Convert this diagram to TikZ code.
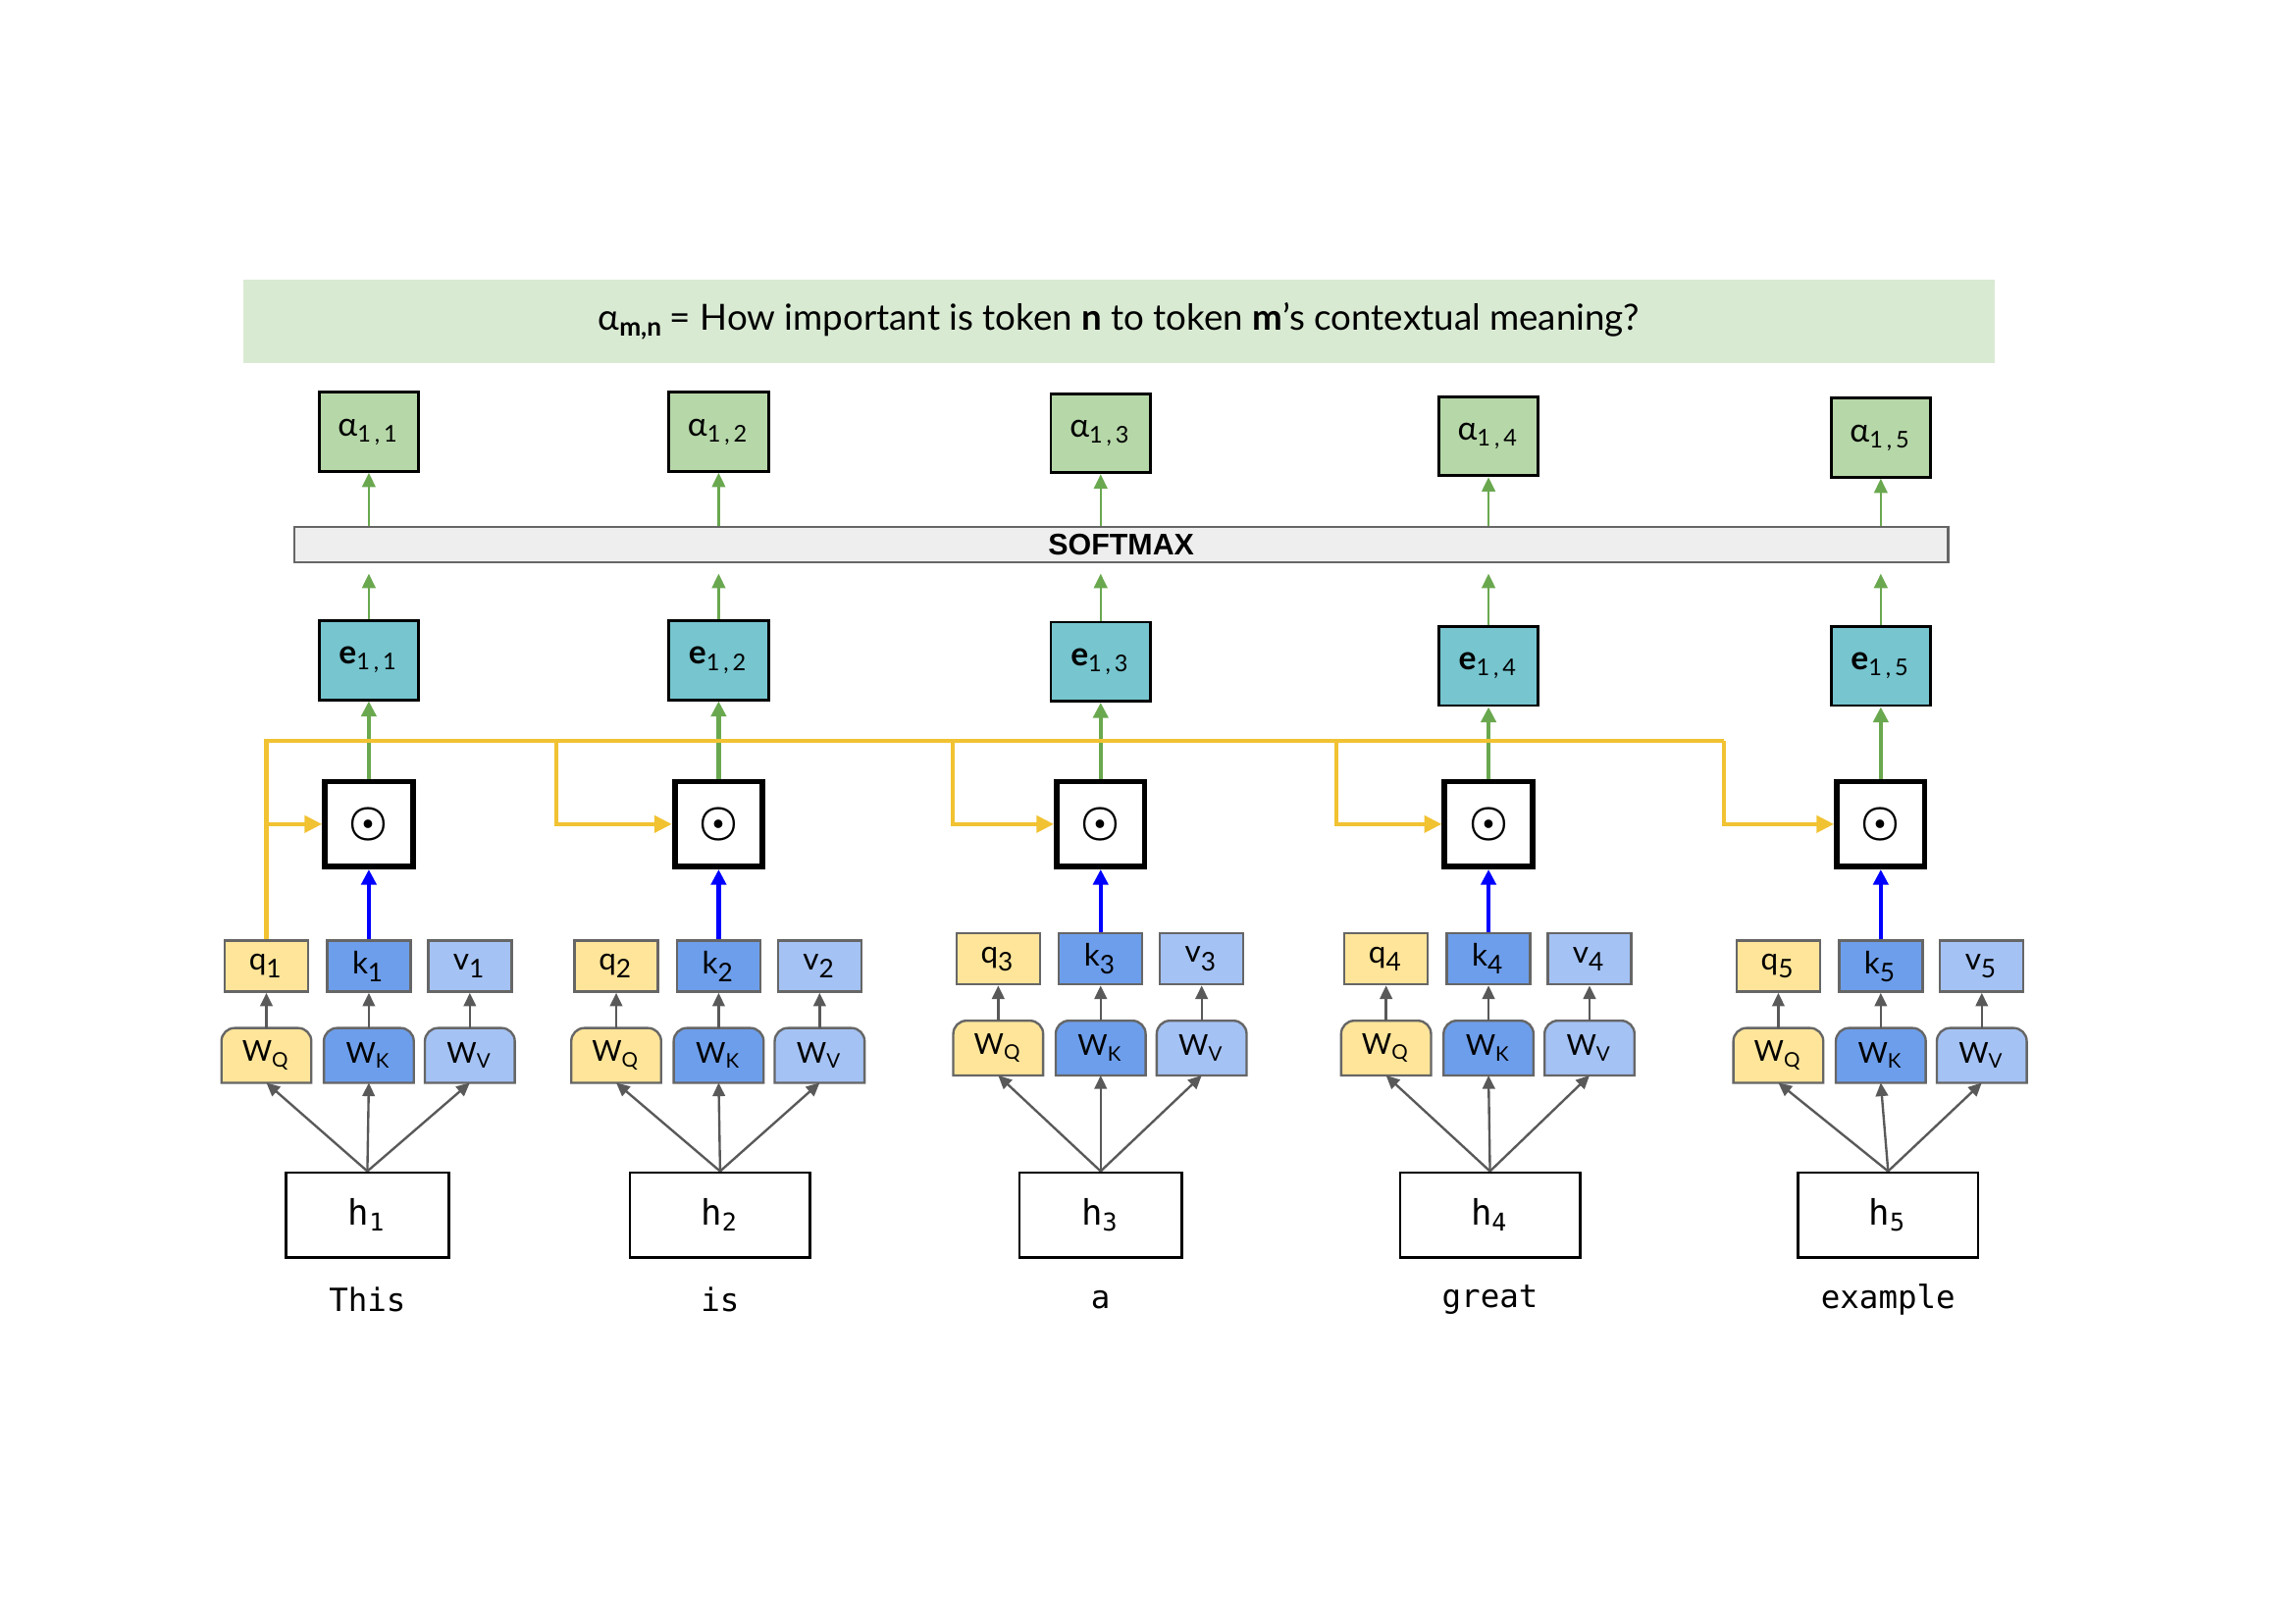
\documentclass[tikz,border=0pt]{standalone}
\usepackage{fontspec}
\setmainfont{Lato}
\newfontfamily\wordfont{DejaVu Sans Mono}
\newfontfamily\barfont{Liberation Sans}
\usepackage{tikz}
\usetikzlibrary{arrows.meta,backgrounds}
\definecolor{bandgreen}{HTML}{D9EAD3}
\definecolor{alphagreen}{HTML}{B6D7A8}
\definecolor{scorecyan}{HTML}{76C5CF}
\definecolor{qyellow}{HTML}{FFE599}
\definecolor{kblue}{HTML}{6D9EEB}
\definecolor{vblue}{HTML}{A4C2F4}
\definecolor{edgegray}{HTML}{666666}
\definecolor{arrowgray}{HTML}{595959}
\definecolor{flowgreen}{HTML}{6AA84F}
\definecolor{qgold}{HTML}{F1C232}
\definecolor{barfill}{HTML}{EEEEEE}

\begin{document}
\begin{tikzpicture}[x=0.1mm, y=-0.1mm,
  box/.style={draw, inner sep=0pt, font=\fontsize{6.4}{7}\selectfont},
  abox/.style={box, fill=alphagreen, line width=0.55pt, minimum width=6.8mm, minimum height=5.4mm},
  ebox/.style={box, fill=scorecyan, line width=0.55pt, minimum width=6.8mm, minimum height=5.4mm},
  dotbox/.style={box, line width=1.1pt, minimum width=6.0mm, minimum height=5.8mm, font=\fontsize{8}{8}\selectfont},
  vecbox/.style={box, draw=edgegray, line width=0.45pt, minimum width=5.7mm, minimum height=3.5mm, font=\fontsize{6}{7}\selectfont},
  wbox/.style={inner sep=0pt, minimum width=6.0mm, minimum height=3.6mm, font=\fontsize{5.6}{7}\selectfont},
  hbox/.style={box, line width=0.5pt, minimum height=5.8mm, font=\wordfont\fontsize{6.8}{7}\selectfont},
  word/.style={font=\wordfont\fontsize{6.2}{7}\selectfont},
  band/.style={fill=bandgreen, inner sep=0pt, minimum width=119.7mm, minimum height=5.7mm, font=\fontsize{7}{8}\selectfont},
  softmax/.style={draw=edgegray, fill=barfill, line width=0.5pt, inner sep=0pt, minimum width=113mm, minimum height=2.4mm, font=\barfont\bfseries\fontsize{5.8}{6}\selectfont},
  greenthin/.style={-{Triangle[length=2.8pt,width=2.6pt]}, draw=flowgreen, line width=0.45pt},
  greenthick/.style={-{Triangle[length=3pt,width=2.9pt]}, draw=flowgreen, line width=0.85pt},
  keyline/.style={-{Triangle[length=3pt,width=2.9pt]}, draw=blue, line width=0.85pt},
  proj/.style={-{Triangle[length=2.6pt,width=2.4pt]}, draw=arrowgray, line width=0.45pt},
  qline/.style={draw=qgold, line width=0.85pt},
  qarrow/.style={qline, -{Triangle[length=3.4pt,width=3.2pt]}}
]
  \useasboundingbox (0,0) rectangle (1568,1109);

  % --- question band + softmax ---
  \node[band] (head) at (764.5,219.5)
    {α\textsubscript{\textbf{m,n}}\,= How important is token \textbf{n} to token \textbf{m}’s contextual meaning?};
  \node[softmax] (sm) at (766,372) {SOFTMAX};

  % --- one column per token ---
  \foreach \i/\x/\ya/\ye/\yv/\yw/\hx/\hw/\word in
    {1/252/295/451/660/721/251/11.1/This, 2/491/295/451/660/721/492/12.3/is,
     3/752/296/452/655/716/752/11.1/a, 4/1017/298/455/655/716/1018/12.3/great,
     5/1285/299/455/660/721/1290/12.3/example}
  {
    \node[abox] (a\i) at (\x,\ya) {α\textsubscript{1\,,\,\i}};
    \node[ebox] (e\i) at (\x,\ye) {\textbf{e}\textsubscript{1\,,\,\i}};
    \node[dotbox] (d\i) at (\x,563) {{\boldmath$\odot$}};
    \node[vecbox, fill=qyellow] (q\i) at (\x-70,\yv) {q\textsubscript{\i}};
    \node[vecbox, fill=kblue] (k\i) at (\x,\yv) {k\textsubscript{\i}};
    \node[vecbox, fill=vblue] (v\i) at (\x+69,\yv) {v\textsubscript{\i}};
    \node[wbox] (wq\i) at (\x-70,\yw) {W\textsubscript{Q}};
    \node[wbox] (wk\i) at (\x,\yw) {W\textsubscript{K}};
    \node[wbox] (wv\i) at (\x+69,\yw) {W\textsubscript{V}};
    \node[hbox, minimum width=\hw mm] (h\i) at (\hx,830) {h\textsubscript{\i}};
    \node[word] (t\i) at (\hx,888) {\word};

    % weight boxes: rounded top only
    \begin{scope}[on background layer]
      \foreach \n/\c in {q/qyellow, k/kblue, v/vblue}
        \filldraw[fill=\c, draw=edgegray, line width=0.45pt]
          (w\n\i.south west) [rounded corners=0.9mm] -- (w\n\i.north west) -- (w\n\i.north east)
          [sharp corners] -- (w\n\i.south east) -- cycle;
    \end{scope}

    \draw[greenthin] (sm.north -| a\i) -- (a\i.south);
    \draw[greenthin, shorten >=0.7mm] (e\i.north) -- (e\i.north |- sm.south);
    \draw[greenthick] (d\i.north) -- (e\i.south);
    \draw[keyline] (k\i.north) -- (d\i.south);
    \foreach \n in {q,k,v} {
      \draw[proj] (w\n\i.north) -- (\n\i.south);
      \draw[proj] (h\i.north) -- (w\n\i.south);
    }
  }

  % --- query q1 routed to every product ---
  \foreach \i/\tx in {2/380, 3/651, 4/913, 5/1178} {\coordinate (tap\i) at (\tx,506);}
  \draw[qline] (q1.north) |- (tap5);
  \draw[qarrow] (q1.north |- d1.west) -- (d1.west);
  \foreach \i in {2,...,5} {\draw[qarrow] (tap\i) |- (d\i.west);}
\end{tikzpicture}
\end{document}
